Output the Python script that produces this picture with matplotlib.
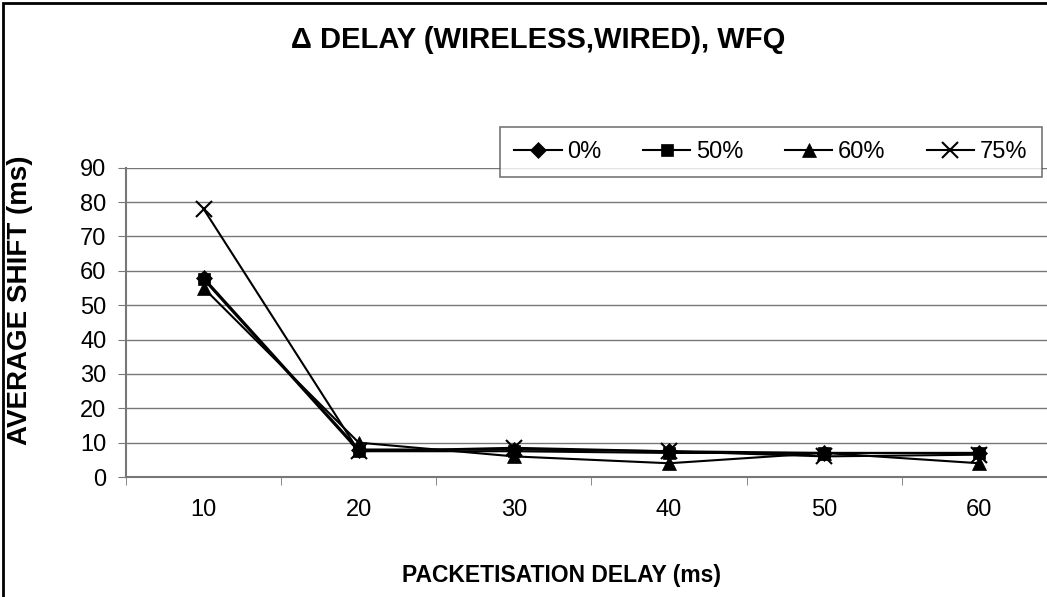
import matplotlib.pyplot as plt
import numpy as np
from matplotlib.patches import Rectangle

plt.rcParams['font.family'] = ['Liberation Sans', 'DejaVu Sans']

delays = ['10', '20', '30', '40', '50', '60']
s0 = [58, 8, 8, 7.5, 7, 7]
s50 = [57.5, 7.5, 7.5, 7, 7, 7]
s60 = [55, 10, 6, 4, 7, 4]
s75 = [78, 7.5, 8.5, 7.5, 6, 6.5]

series = [('0%', s0, 'D', 8), ('50%', s50, 's', 9), ('60%', s60, '^', 10), ('75%', s75, 'x', 11)]

fig = plt.figure(figsize=(10.47, 5.97), dpi=100)
ax = fig.add_axes([0.1204, 0.201, 0.889, 0.518])

x = np.arange(len(delays))
for name, vals, mk, ms in series:
    ax.plot(x, vals, color='black', lw=1.5, marker=mk, markersize=ms,
            markeredgewidth=1.5 if mk == 'x' else 0.5, label=name, clip_on=False)

ax.set_xlim(-0.5, len(delays) - 0.5)
ax.set_ylim(0, 90)
ax.set_yticks(np.arange(0, 91, 10))
ax.yaxis.grid(True, color='#777777', lw=1)
ax.set_axisbelow(True)

ax.set_xticks(x)
ax.set_xticklabels(delays)
ax.set_xticks(np.arange(-0.5, len(delays), 1), minor=True)
ax.tick_params(axis='x', which='major', length=0, pad=16, labelsize=17)
ax.tick_params(axis='x', which='minor', length=6, direction='out', color='#777777')
ax.tick_params(axis='y', length=6, direction='out', color='#777777', labelsize=17, pad=8)

for sp in ['top', 'right']:
    ax.spines[sp].set_visible(False)
for sp in ['left', 'bottom']:
    ax.spines[sp].set_color('#777777')
    ax.spines[sp].set_linewidth(1.5)

ax.set_xlabel('PACKETISATION DELAY (ms)', fontsize=16.5, fontweight='bold')
ax.set_ylabel('AVERAGE SHIFT (ms)', fontsize=20, fontweight='bold')
ax.yaxis.set_label_coords(-0.1, 0.57)
ax.xaxis.set_label_coords(0.468, -0.28)
fig.text(0.514, 0.933, '\u0394 DELAY (WIRELESS,WIRED), WFQ', ha='center', va='center',
         fontsize=21, fontweight='bold')

leg = ax.legend(loc='upper left', bbox_to_anchor=(0.402, 1.133), ncol=4, frameon=True,
                fancybox=False, fontsize=17, handlelength=2.0, handletextpad=0.25,
                columnspacing=1.75, borderpad=0.6, borderaxespad=0)
leg.get_frame().set_edgecolor('#555555')
leg.get_frame().set_linewidth(1.2)

fig.patches.append(Rectangle((0.003, -0.1), 1.2, 1.095, transform=fig.transFigure,
                             fill=False, edgecolor='black', lw=2))

fig.savefig('out.png', dpi=100)
